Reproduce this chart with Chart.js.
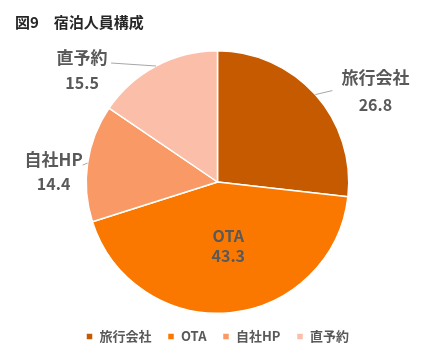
<!DOCTYPE html>
<html>
<head>
<meta charset="utf-8">
<script src="https://cdn.jsdelivr.net/npm/chart.js@4"></script>
<style>
  html, body { margin: 0; padding: 0; background: #fff; }
  #wrap { width: 435px; height: 353px; }
</style>
</head>
<body>
<div id="wrap"><canvas id="pieChart"></canvas></div>
<script>
// data
const categories = ["旅行会社", "OTA", "自社HP", "直予約"];
const shares = [26.8, 43.3, 14.4, 15.5];
const sliceColors = ["#C55A00", "#FB7800", "#F99966", "#FBBFA9"];

// where each data label goes, relative to the point on the rim at the slice's middle angle
const labelLayout = [
    { dx: 60, dy: -17, gap: 27, size: 17, leader: [17, -4] },
    { dx: -2, dy: -77, gap: 20, size: 16, leader: null },
    { dx: -34, dy: -4, gap: 25, size: 17, leader: [-5, 2] },
    { dx: -74, dy: -8, gap: 25, size: 17, leader: [-45, -3] }
];

const FONT = '"Noto Sans CJK JP", "Noto Sans", sans-serif';

// draws category + value labels with the short grey leader lines
const sliceLabels = {
    id: "sliceLabels",
    afterDatasetsDraw(chart) {
        const ctx = chart.ctx;
        const arcs = chart.getDatasetMeta(0).data;
        ctx.save();
        ctx.textAlign = "center";
        ctx.textBaseline = "middle";
        arcs.forEach((arc, i) => {
            const mid = (arc.startAngle + arc.endAngle) / 2;
            const ex = arc.x + Math.cos(mid) * arc.outerRadius;
            const ey = arc.y + Math.sin(mid) * arc.outerRadius;
            const lay = labelLayout[i];
            if (lay.leader) {
                ctx.strokeStyle = "#A6A6A6";
                ctx.lineWidth = 1;
                ctx.beginPath();
                ctx.moveTo(ex, ey);
                ctx.lineTo(ex + lay.leader[0], ey + lay.leader[1]);
                ctx.stroke();
            }
            ctx.fillStyle = "#595959";
            ctx.font = "bold " + lay.size + "px " + FONT;
            ctx.fillText(categories[i], ex + lay.dx, ey + lay.dy);
            ctx.font = "bold 16px " + FONT;
            ctx.fillText(shares[i].toFixed(1), ex + lay.dx, ey + lay.dy + lay.gap);
        });
        ctx.restore();
    }
};

const ctx = document.getElementById("pieChart").getContext("2d");
new Chart(ctx, {
    type: "pie",
    data: {
        labels: categories,
        datasets: [{
            data: shares,
            backgroundColor: sliceColors,
            borderColor: "#FFFFFF",
            borderWidth: 1.5,
            hoverOffset: 0
        }]
    },
    options: {
        responsive: true,
        maintainAspectRatio: false,
        animation: false,
        layout: { padding: { left: 15, right: 15, top: 0, bottom: 0 } },
        plugins: {
            title: {
                display: true,
                text: "図9　宿泊人員構成",
                align: "start",
                color: "#262626",
                font: { family: FONT, size: 15, weight: "bold" },
                padding: { top: 13, bottom: 19 }
            },
            legend: {
                position: "bottom",
                labels: {
                    boxWidth: 7,
                    boxHeight: 7,
                    padding: 16,
                    color: "#595959",
                    font: { family: FONT, size: 13, weight: "bold" }
                }
            },
            tooltip: { enabled: false }
        }
    },
    plugins: [sliceLabels]
});
</script>
</body>
</html>
